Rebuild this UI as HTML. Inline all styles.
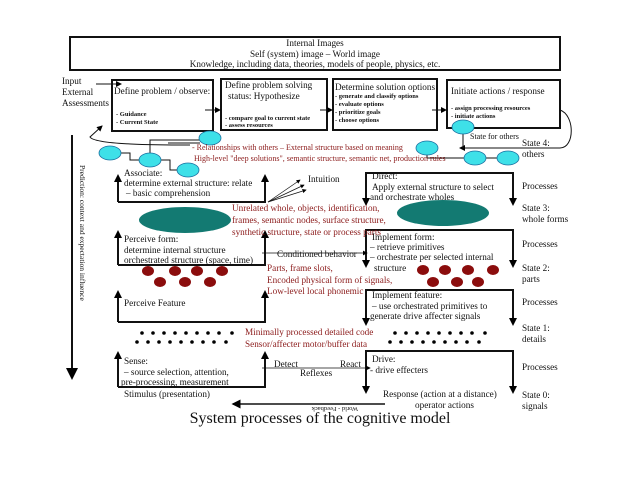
<!DOCTYPE html>
<html><head><meta charset="utf-8"><style>
html,body{margin:0;padding:0;background:#fff;}
svg{display:block;}
text{font-family:"Liberation Serif",serif;font-size:9.2px;fill:#111;}
.r{fill:#8b1a1a;}
.s{font-size:6.5px;font-weight:bold;}
</style></head><body>
<svg width="638" height="479" viewBox="0 0 638 479" xmlns="http://www.w3.org/2000/svg">
<defs><marker id="a" markerWidth="6" markerHeight="6" refX="5" refY="3" orient="auto"><path d="M0,0 L6,3 L0,6 z" fill="#000"/></marker></defs>
<g fill="none" stroke="#111">
<rect x="70" y="37" width="490" height="33" stroke-width="2"/>
<rect x="112" y="80" width="101" height="51" stroke-width="2"/>
<rect x="221" y="79" width="106" height="51" stroke-width="2"/>
<rect x="333" y="79" width="104" height="51" stroke-width="2"/>
<rect x="447" y="80" width="113" height="48" stroke-width="2"/>
<line x1="96" y1="84" x2="121" y2="84" marker-end="url(#a)"/>
<line x1="205" y1="110" x2="220" y2="110" marker-end="url(#a)"/>
<line x1="320" y1="110" x2="332" y2="110" marker-end="url(#a)"/>
<line x1="432" y1="110" x2="446" y2="110" marker-end="url(#a)"/>
<path d="M560,110 C575,115 575,148 560,148 L460,148" marker-end="url(#a)"/>
<path d="M190,145 C160,145 95,145 90,137 L102,126" marker-end="url(#a)"/>
<path d="M150,160 L150,140 L210,140 M110,153 L130,153 L130,160 L150,160 M150,160 L170,160 L170,170 L188,170 M168,143 L200,143"/>
<path d="M427,148 L427,158 L508,158 M463,127 L463,148"/>
<line x1="72" y1="135" x2="72" y2="378" stroke-width="2" marker-end="url(#a)"/>
<g stroke-width="2">
<path d="M118,202 L118,180 M118,202 L265,202 L265,180"/>
<path d="M118,265 L118,236 M118,265 L265,265 L265,236"/>
<path d="M118,322 L118,296 M118,322 L265,322 L265,296"/>
<path d="M118,387 L118,357 M118,387 L265,387 L265,357"/>
<path d="M366,200 L366,173 L513,173 L513,200"/>
<path d="M366,262 L366,230 L513,230 L513,262"/>
<path d="M366,320 L366,290 L513,290 L513,320"/>
<path d="M366,388 L366,351 L513,351 L513,388"/>
</g>
<g fill="#000" stroke="none">
<path d="M114,182 L118,174 L122,182z M261,182 L265,174 L269,182z M114,238 L118,230 L122,238z M261,238 L265,230 L269,238z M114,298 L118,290 L122,298z M261,298 L265,290 L269,298z M114,359 L118,351 L122,359z M261,359 L265,351 L269,359z"/>
<path d="M362,198 L366,206 L370,198z M509,198 L513,206 L517,198z M362,260 L366,268 L370,260z M509,260 L513,268 L517,260z M362,318 L366,326 L370,318z M509,318 L513,326 L517,318z M362,386 L366,394 L370,386z M509,386 L513,394 L517,386z"/>
</g>
<line x1="268" y1="202" x2="300" y2="180" stroke-width="0.7" marker-end="url(#a)"/>
<line x1="268" y1="202" x2="304" y2="185" stroke-width="0.7" marker-end="url(#a)"/>
<line x1="268" y1="202" x2="306" y2="190" stroke-width="0.7" marker-end="url(#a)"/>
<line x1="262" y1="253" x2="367" y2="253" stroke-width="0.8" marker-end="url(#a)"/>
<line x1="262" y1="368" x2="370" y2="368" stroke-width="0.8" marker-end="url(#a)"/>
<line x1="385" y1="404" x2="233" y2="404" stroke-width="1.5" marker-end="url(#a)"/>
</g>
<g fill="#3ee0e8" stroke="#1a6fa0" stroke-width="0.8">
<ellipse cx="210" cy="138" rx="11" ry="7"/><ellipse cx="110" cy="153" rx="11" ry="7"/>
<ellipse cx="150" cy="160" rx="11" ry="7"/><ellipse cx="188" cy="170" rx="11" ry="7"/>
<ellipse cx="463" cy="127" rx="11" ry="7"/><ellipse cx="427" cy="148" rx="11" ry="7"/>
<ellipse cx="475" cy="158" rx="11" ry="7"/><ellipse cx="508" cy="158" rx="11" ry="7"/>
</g>
<g fill="#137a72"><ellipse cx="185" cy="220" rx="46" ry="13"/><ellipse cx="443" cy="213" rx="46" ry="13"/></g>
<g fill="#8b0d0d">
<ellipse cx="148" cy="271" rx="6" ry="5"/><ellipse cx="175" cy="271" rx="6" ry="5"/><ellipse cx="197" cy="271" rx="6" ry="5"/><ellipse cx="222" cy="271" rx="6" ry="5"/>
<ellipse cx="160" cy="282" rx="6" ry="5"/><ellipse cx="185" cy="282" rx="6" ry="5"/><ellipse cx="210" cy="282" rx="6" ry="5"/>
<ellipse cx="423" cy="270" rx="6" ry="5"/><ellipse cx="445" cy="270" rx="6" ry="5"/><ellipse cx="468" cy="270" rx="6" ry="5"/><ellipse cx="493" cy="270" rx="6" ry="5"/>
<ellipse cx="433" cy="282" rx="6" ry="5"/><ellipse cx="457" cy="282" rx="6" ry="5"/><ellipse cx="478" cy="282" rx="6" ry="5"/>
</g>
<g fill="#000">
<circle cx="142" cy="333" r="1.8"/><circle cx="153" cy="333" r="1.8"/><circle cx="164" cy="333" r="1.8"/><circle cx="175" cy="333" r="1.8"/><circle cx="186" cy="333" r="1.8"/><circle cx="197" cy="333" r="1.8"/><circle cx="208" cy="333" r="1.8"/><circle cx="219" cy="333" r="1.8"/><circle cx="232" cy="333" r="1.8"/>
<circle cx="137" cy="342" r="1.8"/><circle cx="148" cy="342" r="1.8"/><circle cx="159" cy="342" r="1.8"/><circle cx="170" cy="342" r="1.8"/><circle cx="181" cy="342" r="1.8"/><circle cx="192" cy="342" r="1.8"/><circle cx="203" cy="342" r="1.8"/><circle cx="214" cy="342" r="1.8"/><circle cx="226" cy="342" r="1.8"/>
<circle cx="395" cy="333" r="1.8"/><circle cx="406" cy="333" r="1.8"/><circle cx="417" cy="333" r="1.8"/><circle cx="428" cy="333" r="1.8"/><circle cx="439" cy="333" r="1.8"/><circle cx="450" cy="333" r="1.8"/><circle cx="461" cy="333" r="1.8"/><circle cx="472" cy="333" r="1.8"/><circle cx="485" cy="333" r="1.8"/>
<circle cx="390" cy="342" r="1.8"/><circle cx="401" cy="342" r="1.8"/><circle cx="412" cy="342" r="1.8"/><circle cx="423" cy="342" r="1.8"/><circle cx="434" cy="342" r="1.8"/><circle cx="445" cy="342" r="1.8"/><circle cx="456" cy="342" r="1.8"/><circle cx="467" cy="342" r="1.8"/><circle cx="479" cy="342" r="1.8"/>
</g>
<g text-anchor="middle">
<text x="315" y="46">Internal Images</text>
<text x="315" y="57">Self (system) image – World image</text>
<text x="315" y="67">Knowledge, including data, theories, models of people, physics, etc.</text>
</g>
<text x="62" y="84">Input</text><text x="62" y="95">External</text><text x="62" y="106">Assessments</text>
<text x="114" y="94">Define problem / observe:</text>
<text class="s" x="116" y="116">- Guidance</text><text class="s" x="116" y="124">- Current State</text>
<text x="225" y="88">Define problem solving</text><text x="228" y="99">status: Hypothesize</text>
<text class="s" x="225" y="120">- compare goal to current state</text><text class="s" x="225" y="127">- assess resources</text>
<text x="335" y="90">Determine solution options</text>
<text class="s" x="335" y="98">- generate and classify options</text><text class="s" x="335" y="106">- evaluate options</text><text class="s" x="335" y="114">- prioritize goals</text><text class="s" x="335" y="122">- choose options</text>
<text x="451" y="94">Initiate actions / response</text>
<text class="s" x="451" y="110">- assign processing resources</text><text class="s" x="451" y="118">- initiate actions</text>
<text x="470" y="139" style="font-size:8px">State for others</text>
<text x="522" y="146">State 4:</text><text x="522" y="157">others</text>
<text class="r" x="192" y="150" style="font-size:8px">- Relationships with others – External structure based on meaning</text>
<text class="r" x="194" y="161" style="font-size:8px">High-level "deep solutions", semantic structure, semantic net, production rules</text>
<text x="80" y="165" transform="rotate(90 80 165)" style="font-size:7.5px">Prediction: context and expectation influence</text>
<text x="124" y="176">Associate:</text><text x="124" y="186">determine external structure: relate</text><text x="126" y="196">– basic comprehension</text>
<text x="308" y="182">Intuition</text>
<text class="r" x="232" y="211">Unrelated whole, objects, identification,</text>
<text class="r" x="232" y="223">frames, semantic nodes, surface structure,</text>
<text class="r" x="232" y="235">synthetic structure, state or process parts</text>
<text x="124" y="242">Perceive form:</text><text x="124" y="253">determine internal structure</text><text x="124" y="263">orchestrated structure (space, time)</text>
<text x="277" y="257">Conditioned behavior</text>
<text class="r" x="267" y="271">Parts, frame slots,</text><text class="r" x="267" y="283">Encoded physical form of signals,</text><text class="r" x="267" y="294">Low-level local phonemic</text>
<text x="124" y="306">Perceive Feature</text>
<text class="r" x="245" y="335">Minimally processed detailed code</text><text class="r" x="245" y="347">Sensor/affecter motor/buffer data</text>
<text x="124" y="364">Sense:</text><text x="124" y="375">– source selection, attention,</text><text x="121" y="385">pre-processing, measurement</text>
<text x="124" y="397">Stimulus (presentation)</text>
<text x="274" y="367">Detect</text><text x="340" y="367">React</text><text x="300" y="376">Reflexes</text>
<text x="372" y="179">Direct:</text><text x="372" y="190">Apply external structure to select</text><text x="370" y="200">and orchestrate wholes</text>
<text x="372" y="240">Implement form:</text><text x="370" y="250">– retrieve primitives</text><text x="370" y="260">– orchestrate per selected internal</text><text x="374" y="271">structure</text>
<text x="372" y="298">Implement feature:</text><text x="372" y="309">– use orchestrated primitives to</text><text x="370" y="319">generate drive affecter signals</text>
<text x="372" y="362">Drive:</text><text x="370" y="373">- drive effecters</text>
<text x="383" y="397">Response (action at a distance)</text><text x="415" y="408">operator actions</text>
<text x="322" y="407" transform="rotate(180 340 407)" style="font-size:6.5px">World - Feedback</text>
<g>
<text x="522" y="189">Processes</text><text x="522" y="211">State 3:</text><text x="522" y="222">whole forms</text>
<text x="522" y="247">Processes</text><text x="522" y="271">State 2:</text><text x="522" y="282">parts</text>
<text x="522" y="305">Processes</text><text x="522" y="331">State 1:</text><text x="522" y="342">details</text>
<text x="522" y="370">Processes</text><text x="522" y="398">State 0:</text><text x="522" y="409">signals</text>
</g>
<text x="320" y="423" text-anchor="middle" style="font-size:16px">System processes of the cognitive model</text>
</svg>
</body></html>
